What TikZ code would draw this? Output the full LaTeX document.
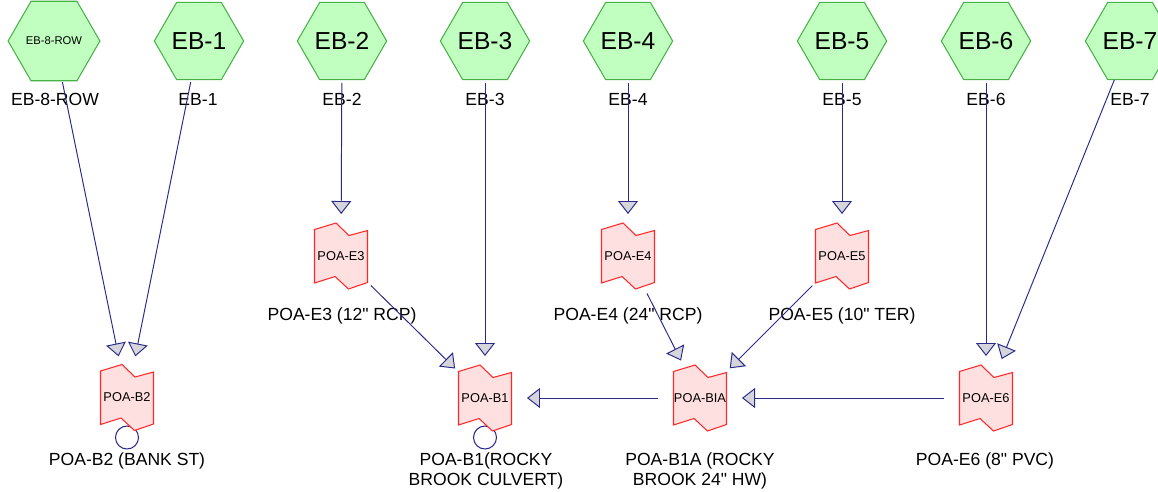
\documentclass[tikz,border=0pt]{standalone}
\usepackage{fontspec}
\setmainfont{Liberation Sans}[Ligatures=TeXOff]
\usepackage{xcolor}
\usepackage{tikz}
\usetikzlibrary{shapes.geometric, arrows.meta}

\definecolor{ebfill}{RGB}{192,255,192}
\definecolor{ebline}{RGB}{72,178,72}
\definecolor{poafill}{RGB}{255,224,224}
\definecolor{poaline}{RGB}{255,40,40}
\definecolor{flowline}{RGB}{42,42,140}
\definecolor{tipfill}{RGB}{214,214,218}

\begin{document}
\begin{tikzpicture}[x=0.02cm, y=-0.02cm,
    every node/.style={font=\fontsize{10}{11.4}\selectfont},
    hexa/.style={regular polygon, regular polygon sides=6, minimum size=1.44cm,
        inner sep=0pt, draw=ebline, fill=ebfill, line width=0.6pt,
        font=\fontsize{14}{16}\selectfont},
    poatxt/.style={inner sep=0pt, font=\fontsize{7.3}{8}\selectfont},
    lbl/.style={anchor=north, inner sep=0pt, align=center},
    ring/.style={circle, draw=flowline, fill=white, line width=0.6pt,
        minimum size=0.46cm, inner sep=0pt},
    flow/.style={draw=flowline, line width=0.55pt, shorten <=0.84cm, shorten >=0.84cm,
        -{Triangle[length=0.26cm, width=0.4cm, fill=tipfill]}},
    poa/.pic={\filldraw[draw=poaline, fill=poafill, line width=0.6pt]
        (-26.5,-26.5) -- (-5,-33) -- (8,-20.5) -- (26.5,-25.5) -- (26.5,26.5)
        -- (7.5,33) -- (-6,20.5) -- (-26.5,27) -- cycle;}]

    \clip (0,0) rectangle (1158,491);

    % Catchments
    \node[hexa, font=\fontsize{6.4}{7}\selectfont] (eb8) at (54,41) {EB-8-ROW};
    \node[hexa] (eb1) at (199,41) {EB-1};
    \node[hexa] (eb2) at (342,41) {EB-2};
    \node[hexa] (eb3) at (485,41) {EB-3};
    \node[hexa] (eb4) at (628,41) {EB-4};
    \node[hexa] (eb5) at (842,41) {EB-5};
    \node[hexa] (eb6) at (986,41) {EB-6};
    \node[hexa] (eb7) at (1130,41) {EB-7};

    % Catchment names
    \node[lbl] (eb8name) at (55,93) {EB-8-ROW};
    \node[lbl] (eb1name) at (198,93) {EB-1};
    \node[lbl] (eb2name) at (342,93) {EB-2};
    \node[lbl] (eb3name) at (485,93) {EB-3};
    \node[lbl] (eb4name) at (628,93) {EB-4};
    \node[lbl] (eb5name) at (842,93) {EB-5};
    \node[lbl] (eb6name) at (986,93) {EB-6};
    \node[lbl] (eb7name) at (1130,93) {EB-7};

    % Loops under B2 and B1
    \node[ring] (b2ring) at (127,437.5) {};
    \node[ring] (b1ring) at (485,437.5) {};

    % Points of analysis
    \pic at (341,256) {poa};
    \node[poatxt] (e3) at (341,256) {POA-E3};
    \pic at (628,256) {poa};
    \node[poatxt] (e4) at (628,256) {POA-E4};
    \pic at (842,256) {poa};
    \node[poatxt] (e5) at (842,256) {POA-E5};
    \pic at (127,397.5) {poa};
    \node[poatxt] (b2) at (127,397.5) {POA-B2};
    \pic at (485,398) {poa};
    \node[poatxt] (b1) at (485,398) {POA-B1};
    \pic at (700,398) {poa};
    \node[poatxt] (b1a) at (700,398) {POA-BIA};
    \pic at (986,398) {poa};
    \node[poatxt] (e6) at (986,398) {POA-E6};

    % Point of analysis names
    \node[lbl] (e3name) at (342,307) {POA-E3 (12" RCP)};
    \node[lbl] (e4name) at (628,307) {POA-E4 (24" RCP)};
    \node[lbl] (e5name) at (842,307) {POA-E5 (10" TER)};
    \node[lbl] (b2name) at (127,452) {POA-B2 (BANK ST)};
    \node[lbl] (b1name) at (486,452) {POA-B1(ROCKY\\BROOK CULVERT)};
    \node[lbl] (b1aname) at (700,452) {POA-B1A (ROCKY\\BROOK 24" HW)};
    \node[lbl] (e6name) at (985,452) {POA-E6 (8" PVC)};

    % Flow paths
    \draw[flow] (eb8.center) -- (b2.center);
    \draw[flow] (eb1.center) -- (b2.center);
    \draw[flow] (eb2.center) -- (e3.center);
    \draw[flow] (eb3.center) -- (b1.center);
    \draw[flow] (eb4.center) -- (e4.center);
    \draw[flow] (eb5.center) -- (e5.center);
    \draw[flow] (eb6.center) -- (e6.center);
    \draw[flow] (eb7.center) -- (e6.center);
    \draw[flow] (e3.center) -- (b1.center);
    \draw[flow] (e4.center) -- (b1a.center);
    \draw[flow] (e5.center) -- (b1a.center);
    \draw[flow] (e6.center) -- (b1a.center);
    \draw[flow] (b1a.center) -- (b1.center);
\end{tikzpicture}
\end{document}
